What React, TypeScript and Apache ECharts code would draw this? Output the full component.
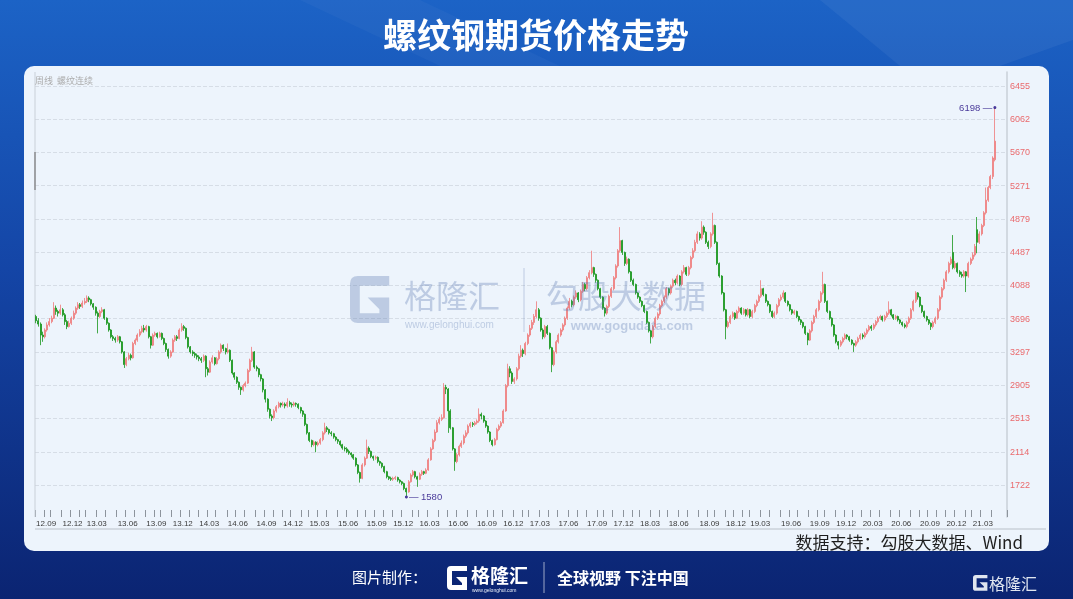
import React, { useEffect, useRef } from 'react';
import * as echarts from 'echarts';

const TITLE = '螺纹钢期货价格走势';
const SUBTITLE = '周线  螺纹连续';
const SOURCE = '数据支持：勾股大数据、Wind';
const yTickLabels = [1722, 2114, 2513, 2905, 3297, 3696, 4088, 4487, 4879, 5271, 5670, 6062, 6455];
const labelMonths = ['03', '06', '09', '12'];

// weekly candles per month: [open, close, low, high]
type Month = [string, number[][]];
const m2012: Month[] = [
  ['12.09', [[3720,3670,3640,3740],[3670,3630,3600,3700],[3630,3500,3380,3650],[3500,3480,3420,3540]]],
  ['12.10', [[3480,3560,3460,3580],[3560,3620,3540,3650],[3620,3660,3600,3700]]],
  ['12.11', [[3660,3700,3640,3730],[3700,3820,3690,3890],[3820,3780,3740,3850],[3780,3760,3720,3800],[3760,3800,3740,3860]]],
  ['12.12', [[3800,3740,3720,3820],[3740,3660,3620,3760],[3660,3600,3570,3680],[3600,3640,3590,3670]]],
];
const m2013: Month[] = [
  ['13.01', [[3640,3700,3620,3720],[3700,3760,3680,3790],[3760,3820,3740,3840],[3820,3860,3800,3890]]],
  ['13.02', [[3860,3840,3810,3880],[3840,3880,3820,3910],[3880,3900,3860,3940]]],
  ['13.03', [[3900,3940,3880,3970],[3940,3920,3890,3960],[3920,3870,3850,3930],[3870,3830,3800,3880],[3830,3760,3730,3840]]],
  ['13.04', [[3760,3720,3520,3780],[3720,3780,3700,3800],[3780,3800,3760,3830],[3800,3700,3680,3810]]],
  ['13.05', [[3700,3640,3620,3710],[3640,3560,3540,3650],[3560,3480,3460,3570],[3480,3460,3430,3500],[3460,3440,3410,3480]]],
  ['13.06', [[3440,3480,3420,3500],[3480,3420,3400,3490],[3420,3300,3280,3430],[3300,3150,3110,3310]]],
  ['13.07', [[3150,3220,3130,3240],[3220,3260,3200,3290],[3260,3230,3200,3280],[3230,3400,3220,3420]]],
  ['13.08', [[3400,3440,3380,3460],[3440,3500,3420,3520],[3500,3540,3480,3570],[3540,3580,3520,3610],[3580,3560,3530,3620]]],
  ['13.09', [[3560,3600,3540,3620],[3600,3480,3460,3610],[3480,3380,3340,3490],[3380,3500,3370,3520]]],
  ['13.10', [[3500,3520,3480,3540],[3520,3480,3460,3530],[3480,3520,3470,3540]]],
  ['13.11', [[3520,3460,3440,3530],[3460,3400,3380,3470],[3400,3330,3300,3410],[3330,3250,3220,3340],[3250,3300,3230,3320]]],
  ['13.12', [[3300,3440,3290,3460],[3440,3480,3420,3500],[3480,3460,3430,3500],[3460,3560,3450,3580]]],
];
const m2014: Month[] = [
  ['14.01', [[3560,3600,3540,3640],[3600,3580,3550,3620],[3580,3470,3450,3590],[3470,3360,3340,3480]]],
  ['14.02', [[3360,3300,3280,3370],[3300,3280,3250,3320],[3280,3260,3230,3300],[3260,3240,3210,3280]]],
  ['14.03', [[3240,3220,3190,3260],[3220,3200,3170,3240],[3200,3250,3180,3270],[3250,3100,3000,3260]]],
  ['14.04', [[3100,3060,3020,3120],[3060,3180,3050,3200],[3180,3230,3160,3260],[3230,3160,3140,3240]]],
  ['14.05', [[3160,3220,3150,3240],[3220,3300,3200,3320],[3300,3380,3280,3400],[3380,3340,3310,3390],[3340,3300,3270,3350]]],
  ['14.06', [[3300,3320,3280,3400],[3320,3200,3180,3330],[3200,3050,3030,3210],[3050,3000,2970,3060]]],
  ['14.07', [[3000,2940,2920,3010],[2940,2880,2850,2950],[2880,2850,2790,2890],[2850,2900,2830,2920]]],
  ['14.08', [[2900,2930,2880,2950],[2930,3080,2920,3100],[3080,3200,3060,3220],[3200,3300,3180,3360],[3300,3120,3100,3310]]],
  ['14.09', [[3120,3100,3070,3140],[3100,3030,3000,3110],[3030,2980,2950,3040],[2980,2850,2820,2990]]],
  ['14.10', [[2850,2740,2700,2860],[2740,2620,2590,2750],[2620,2540,2510,2630],[2540,2520,2480,2560]]],
  ['14.11', [[2520,2600,2500,2620],[2600,2650,2580,2670],[2650,2690,2630,2710],[2690,2670,2640,2700]]],
  ['14.12', [[2670,2680,2650,2710],[2680,2660,2630,2700],[2660,2700,2640,2750],[2700,2680,2650,2720]]],
];
const m2015: Month[] = [
  ['15.01', [[2680,2670,2640,2700],[2670,2690,2650,2710],[2690,2680,2650,2700],[2680,2640,2620,2690],[2640,2600,2570,2650]]],
  ['15.02', [[2600,2560,2530,2610],[2560,2440,2420,2570],[2440,2340,2320,2450]]],
  ['15.03', [[2340,2250,2230,2350],[2250,2200,2170,2260],[2200,2230,2180,2250],[2230,2200,2110,2240]]],
  ['15.04', [[2200,2220,2180,2240],[2220,2260,2200,2280],[2260,2340,2240,2360],[2340,2400,2320,2460]]],
  ['15.05', [[2400,2380,2350,2420],[2380,2340,2320,2390],[2340,2330,2300,2360],[2330,2290,2270,2340],[2290,2260,2240,2300]]],
  ['15.06', [[2260,2240,2210,2270],[2240,2200,2180,2250],[2200,2160,2140,2210],[2160,2150,2120,2180]]],
  ['15.07', [[2150,2120,2100,2170],[2120,2100,2080,2140],[2100,2080,2050,2110],[2080,2040,2020,2090],[2040,1960,1940,2050]]],
  ['15.08', [[1960,1870,1850,1970],[1870,1800,1750,1880],[1800,1960,1790,1980],[1960,2040,1940,2060]]],
  ['15.09', [[2040,2160,2030,2260],[2160,2120,2090,2180],[2120,2060,2040,2130],[2060,2040,2010,2070]]],
  ['15.10', [[2040,2050,2020,2070],[2050,2000,1980,2060],[2000,1980,1950,2010],[1980,1940,1920,1990]]],
  ['15.11', [[1940,1880,1860,1950],[1880,1820,1800,1890],[1820,1800,1780,1830],[1800,1790,1770,1820]]],
  ['15.12', [[1790,1800,1770,1820],[1800,1810,1780,1830],[1810,1780,1760,1820],[1780,1760,1740,1790]]],
];
const m2016: Month[] = [
  ['16.01', [[1760,1740,1720,1770],[1740,1680,1660,1750],[1680,1640,1580,1690],[1640,1760,1630,1780],[1760,1840,1750,1860]]],
  ['16.02', [[1840,1880,1820,1900],[1880,1820,1800,1890],[1820,1790,1700,1830]]],
  ['16.03', [[1790,1850,1780,1870],[1850,1880,1830,1900],[1880,1860,1840,1890],[1860,1900,1850,1920]]],
  ['16.04', [[1900,2020,1890,2040],[2020,2150,2010,2170],[2150,2250,2140,2270],[2250,2350,2230,2380],[2350,2460,2340,2490]]],
  ['16.05', [[2460,2500,2440,2530],[2500,2520,2480,2560],[2520,2880,2510,2930],[2880,2860,2800,2910]]],
  ['16.06', [[2860,2600,2340,2870],[2600,2400,2380,2620],[2400,2150,2130,2410],[2150,2000,1890,2160]]],
  ['16.07', [[2000,2080,1980,2100],[2080,2180,2060,2200],[2180,2220,2160,2250],[2220,2300,2200,2320],[2300,2340,2280,2370]]],
  ['16.08', [[2340,2420,2320,2440],[2420,2450,2400,2470],[2450,2440,2410,2470],[2440,2460,2420,2480]]],
  ['16.09', [[2460,2480,2440,2500],[2480,2560,2460,2630],[2560,2540,2500,2580],[2540,2480,2460,2550],[2480,2420,2400,2490]]],
  ['16.10', [[2420,2350,2330,2430],[2350,2250,2230,2360],[2250,2200,2180,2260]]],
  ['16.11', [[2200,2260,2190,2280],[2260,2380,2250,2400],[2380,2420,2360,2440],[2420,2460,2400,2480]]],
  ['16.12', [[2460,2600,2450,2620],[2600,2900,2590,2920],[2900,3100,2880,3160],[3100,3050,3000,3130],[3050,2950,2920,3070]]],
];
const m2017: Month[] = [
  ['17.01', [[2950,2980,2920,3000],[2980,3100,2960,3120],[3100,3250,3080,3280],[3250,3320,3230,3380]]],
  ['17.02', [[3320,3280,3240,3340],[3280,3400,3260,3420],[3400,3500,3380,3520]]],
  ['17.03', [[3500,3580,3480,3620],[3580,3650,3560,3680],[3650,3720,3620,3750],[3720,3800,3700,3900],[3800,3700,3670,3820]]],
  ['17.04', [[3700,3560,3540,3710],[3560,3480,3450,3580],[3480,3600,3460,3620],[3600,3520,3500,3620]]],
  ['17.05', [[3520,3350,3330,3530],[3350,3150,3060,3360],[3150,3300,3130,3320],[3300,3420,3280,3440]]],
  ['17.06', [[3420,3500,3400,3520],[3500,3560,3480,3580],[3560,3620,3540,3640],[3620,3700,3600,3720],[3700,3820,3680,3840]]],
  ['17.07', [[3820,3900,3800,3940],[3900,3860,3830,3920],[3860,3950,3840,3970],[3950,4000,3930,4030]]],
  ['17.08', [[4000,3920,3890,4010],[3920,4020,3900,4040],[4020,4100,4000,4130],[4100,4050,4020,4120]]],
  ['17.09', [[4050,4180,4030,4200],[4180,4240,4160,4270],[4240,4300,4220,4500],[4300,4220,4190,4310],[4220,4150,4120,4230]]],
  ['17.10', [[4150,4050,4030,4160],[4050,3950,3930,4060],[3950,3820,3800,3960]]],
  ['17.11', [[3820,3760,3720,3830],[3760,3840,3740,3860],[3840,3960,3820,3980],[3960,4050,3940,4070]]],
  ['17.12', [[4050,4180,4030,4200],[4180,4320,4160,4340],[4320,4500,4300,4520],[4500,4620,4480,4780],[4620,4480,4450,4630]]],
];
const m2018: Month[] = [
  ['18.01', [[4480,4350,4320,4490],[4350,4400,4330,4430],[4400,4250,4230,4410],[4250,4150,4130,4260]]],
  ['18.02', [[4150,4100,4080,4170],[4100,4000,3980,4110],[4000,3950,3930,4010]]],
  ['18.03', [[3950,3900,3880,3960],[3900,3850,3830,3910],[3850,3780,3760,3860],[3780,3650,3630,3790],[3650,3550,3530,3660]]],
  ['18.04', [[3550,3480,3400,3560],[3480,3600,3460,3620],[3600,3700,3580,3720],[3700,3750,3680,3770]]],
  ['18.05', [[3750,3850,3730,3870],[3850,3900,3830,3920],[3900,3950,3880,3970],[3950,4050,3930,4070]]],
  ['18.06', [[4050,4000,3970,4060],[4000,4080,3980,4100],[4080,4150,4060,4170],[4150,4120,4090,4170],[4120,4200,4100,4220]]],
  ['18.07', [[4200,4100,4080,4210],[4100,4250,4080,4270],[4250,4300,4230,4330],[4300,4220,4200,4310]]],
  ['18.08', [[4220,4300,4200,4320],[4300,4420,4280,4440],[4420,4500,4400,4530],[4500,4600,4480,4630],[4600,4700,4580,4730]]],
  ['18.09', [[4700,4650,4620,4720],[4650,4780,4630,4850],[4780,4720,4690,4800],[4720,4600,4580,4730]]],
  ['18.10', [[4600,4550,4520,4620],[4550,4700,4530,4720],[4700,4800,4680,4950]]],
  ['18.11', [[4800,4600,4580,4810],[4600,4350,4330,4610],[4350,4200,4180,4360],[4200,4000,3980,4210],[4000,3800,3780,4010]]],
  ['18.12', [[3800,3600,3450,3810],[3600,3650,3580,3670],[3650,3720,3630,3740],[3720,3760,3700,3780]]],
];
const m2019: Month[] = [
  ['19.01', [[3760,3700,3680,3770],[3700,3780,3690,3800],[3780,3820,3760,3840],[3820,3760,3740,3830]]],
  ['19.02', [[3760,3800,3740,3820],[3800,3740,3720,3810],[3740,3800,3720,3820]]],
  ['19.03', [[3800,3720,3700,3810],[3720,3780,3700,3800],[3780,3850,3760,3870],[3850,3900,3830,3920],[3900,3960,3880,3980]]],
  ['19.04', [[3960,4050,3940,4150],[4050,3980,3960,4060],[3980,3900,3880,3990],[3900,3860,3840,3910]]],
  ['19.05', [[3860,3780,3760,3870],[3780,3720,3700,3790],[3720,3760,3700,3780],[3760,3850,3740,3870],[3850,3920,3830,3940]]],
  ['19.06', [[3920,3950,3900,3980],[3950,4000,3930,4030],[4000,3900,3880,4010],[3900,3860,3840,3910]]],
  ['19.07', [[3860,3800,3780,3870],[3800,3760,3740,3810],[3760,3780,3740,3800],[3780,3720,3700,3790]]],
  ['19.08', [[3720,3680,3660,3730],[3680,3650,3620,3690],[3650,3600,3580,3660],[3600,3520,3500,3610],[3520,3440,3380,3530]]],
  ['19.09', [[3440,3550,3430,3570],[3550,3650,3530,3670],[3650,3720,3630,3740],[3720,3800,3700,3820]]],
  ['19.10', [[3800,3900,3780,3920],[3900,4000,3880,4020],[4000,4100,3980,4250]]],
  ['19.11', [[4100,3900,3880,4110],[3900,3780,3760,3910],[3780,3700,3680,3790],[3700,3620,3600,3710],[3620,3500,3480,3630]]],
  ['19.12', [[3500,3420,3400,3510],[3420,3380,3330,3430],[3380,3420,3360,3440],[3420,3460,3400,3480]]],
];
const m2020: Month[] = [
  ['20.01', [[3460,3500,3440,3520],[3500,3480,3450,3510],[3480,3440,3420,3490],[3440,3400,3380,3450]]],
  ['20.02', [[3400,3380,3300,3410],[3380,3420,3360,3440],[3420,3460,3400,3480],[3460,3500,3440,3520]]],
  ['20.03', [[3500,3480,3450,3520],[3480,3520,3460,3540],[3520,3560,3500,3580],[3560,3600,3540,3620]]],
  ['20.04', [[3600,3580,3550,3620],[3580,3620,3560,3640],[3620,3660,3600,3680],[3660,3700,3640,3720]]],
  ['20.05', [[3700,3720,3680,3740],[3720,3680,3660,3730],[3680,3720,3660,3740],[3720,3760,3700,3780],[3760,3800,3740,3900]]],
  ['20.06', [[3800,3740,3720,3810],[3740,3700,3680,3750],[3700,3720,3680,3740],[3720,3680,3660,3730]]],
  ['20.07', [[3680,3650,3630,3690],[3650,3620,3600,3660],[3620,3600,3580,3640],[3600,3650,3580,3670],[3650,3700,3630,3720]]],
  ['20.08', [[3700,3800,3680,3820],[3800,3900,3780,3920],[3900,4000,3880,4020],[4000,3950,3920,4010]]],
  ['20.09', [[3950,3850,3830,3960],[3850,3780,3760,3860],[3780,3720,3700,3790],[3720,3680,3660,3730]]],
  ['20.10', [[3680,3640,3620,3690],[3640,3600,3560,3650],[3600,3650,3580,3670],[3650,3700,3630,3720]]],
  ['20.11', [[3700,3800,3680,3820],[3800,3950,3780,3970],[3950,4050,3930,4070],[4050,4150,4030,4170]]],
  ['20.12', [[4150,4250,4130,4270],[4250,4350,4230,4370],[4350,4400,4330,4430],[4480,4300,4280,4686]]],
];
const m2021: Month[] = [
  ['21.01', [[4300,4350,4280,4380],[4350,4250,4230,4360],[4250,4220,4190,4270],[4220,4200,4180,4250],[4200,4250,4180,4270]]],
  ['21.02', [[4250,4200,4010,4260],[4200,4350,4180,4370],[4350,4400,4330,4420]]],
  ['21.03', [[4400,4450,4380,4480],[4450,4550,4430,4580],[4750,4600,4470,4900],[4600,4700,4580,4730]]],
  ['21.04', [[4700,4800,4680,4820],[4800,4950,4780,4970],[4950,5100,4930,5250],[5100,5250,5080,5270],[5250,5380,5230,5400]]],
  ['21.05', [[5380,5600,5350,5620],[5580,5800,5560,6198]]],
];
const PAD_WEEKS = 5;

const allMonths: Month[] = [...m2012, ...m2013, ...m2014, ...m2015, ...m2016, ...m2017, ...m2018, ...m2019, ...m2020, ...m2021];
const categories: string[] = [];
const candles: number[][] = [];
allMonths.forEach(([m, weeks]) => {
  weeks.forEach((w, k) => {
    categories.push(m + '#' + k);
    candles.push([w[0], w[1], w[2], w[3]]);
  });
});
for (let i = 0; i < PAD_WEEKS; i++) categories.push('pad#' + (i + 1));

const G_PATH = 'M40 0 L8 0 Q0 0 0 8 L0 40 Q0 48 8 48 L40 48 L40 22 L18 22 L30 34 L30 38 L10 38 L10 10 L40 10 Z';
echarts.graphic.registerShape('glogo', echarts.graphic.extendPath(G_PATH, {}));

const CJK = '"Noto Sans CJK SC", "Noto Sans", sans-serif';
const LAT = 'Arial, "Liberation Sans", sans-serif';

export default function App() {
  const ref = useRef<HTMLDivElement>(null);
  useEffect(() => {
    if (!ref.current) return;
    const chart = echarts.init(ref.current, undefined, { renderer: 'svg' });
    const wm = 'rgba(90,120,176,0.33)';
    const option: any = {
      animation: false,
      graphic: [
        {
          type: 'rect', z: -20, shape: { x: 0, y: 0, width: 1073, height: 599 },
          style: { fill: new echarts.graphic.LinearGradient(0, 0, 0, 1, [
            { offset: 0, color: '#1c63c6' }, { offset: 0.45, color: '#1445a6' }, { offset: 1, color: '#0b2472' }]) },
        },
        { type: 'polygon', z: -19, shape: { points: [[820, 0], [1073, 0], [1073, 40], [1000, 66], [900, 66]] }, style: { fill: 'rgba(255,255,255,0.05)' } },
        { type: 'polygon', z: -19, shape: { points: [[300, 0], [420, 0], [560, 66], [440, 66]] }, style: { fill: 'rgba(255,255,255,0.03)' } },
        { type: 'rect', z: -18, shape: { x: 24, y: 66, width: 1025, height: 485, r: 10 }, style: { fill: '#edf4fc' } },
        { type: 'text', z: 10, x: 536, y: 33, style: { text: TITLE, fill: '#ffffff', font: 'bold 34px ' + CJK, textAlign: 'center', textVerticalAlign: 'middle' } },
        { type: 'text', z: 10, x: 35, y: 80, style: { text: SUBTITLE, fill: '#acacac', font: '9px ' + CJK, textAlign: 'left', textVerticalAlign: 'middle' } },
        { type: 'line', z: 1, shape: { x1: 35, y1: 72, x2: 35, y2: 517 }, style: { stroke: '#c9d0d8', lineWidth: 1 } },
        { type: 'line', z: 1, shape: { x1: 35, y1: 152, x2: 35, y2: 190 }, style: { stroke: '#777', lineWidth: 1.2 } },
        { type: 'line', z: 1, shape: { x1: 35, y1: 529, x2: 1046, y2: 529 }, style: { stroke: '#b9c0c8', lineWidth: 1 } },
        { type: 'text', z: 10, x: 1023, y: 541, style: { text: SOURCE, fill: '#1e1e1e', font: '17px ' + CJK, textAlign: 'right', textVerticalAlign: 'middle' } },
        // watermark
        { type: 'glogo', z: 50, x: 350, y: 276, scaleX: 0.98, scaleY: 0.98, style: { fill: wm } },
        { type: 'text', z: 50, x: 404, y: 294, style: { text: '格隆汇', fill: wm, font: '32px ' + CJK, textAlign: 'left', textVerticalAlign: 'middle' } },
        { type: 'text', z: 50, x: 405, y: 324, style: { text: 'www.gelonghui.com', fill: wm, font: '10px ' + LAT, textAlign: 'left', textVerticalAlign: 'middle' } },
        { type: 'line', z: 50, shape: { x1: 524, y1: 268, x2: 524, y2: 332 }, style: { stroke: wm, lineWidth: 1 } },
        { type: 'text', z: 50, x: 546, y: 294, style: { text: '勾股大数据', fill: wm, font: '32px ' + CJK, textAlign: 'left', textVerticalAlign: 'middle' } },
        { type: 'text', z: 50, x: 632, y: 325, style: { text: 'www.gogudata.com', fill: wm, font: 'bold 13px ' + LAT, textAlign: 'center', textVerticalAlign: 'middle' } },
        // footer
        { type: 'text', z: 10, x: 352, y: 576, style: { text: '图片制作：', fill: '#ffffff', font: '15px ' + CJK, textAlign: 'left', textVerticalAlign: 'middle' } },
        { type: 'glogo', z: 10, x: 447, y: 566, scaleX: 0.5, scaleY: 0.5, style: { fill: '#ffffff' } },
        { type: 'text', z: 10, x: 471, y: 574, style: { text: '格隆汇', fill: '#ffffff', font: 'bold 19px ' + CJK, textAlign: 'left', textVerticalAlign: 'middle' } },
        { type: 'text', z: 10, x: 472, y: 590, style: { text: 'www.gelonghui.com', fill: '#e8eef8', font: '5px ' + LAT, textAlign: 'left', textVerticalAlign: 'middle' } },
        { type: 'line', z: 10, shape: { x1: 544, y1: 562, x2: 544, y2: 593 }, style: { stroke: 'rgba(255,255,255,0.6)', lineWidth: 1 } },
        { type: 'text', z: 10, x: 557, y: 577, style: { text: '全球视野 下注中国', fill: '#ffffff', font: 'bold 16px ' + CJK, textAlign: 'left', textVerticalAlign: 'middle' } },
        { type: 'glogo', z: 10, x: 973, y: 575, scaleX: 0.36, scaleY: 0.33, style: { fill: '#dfe5ef' } },
        { type: 'text', z: 10, x: 989, y: 583, style: { text: '格隆汇', fill: '#dfe5ef', font: '16px ' + CJK, textAlign: 'left', textVerticalAlign: 'middle' } },
      ],
      grid: { left: 35, right: 66, top: 72, bottom: 82 },
      xAxis: {
        type: 'category',
        data: categories,
        boundaryGap: true,
        axisLine: { show: false },
        axisTick: {
          show: true, inside: true, length: 7,
          interval: (_i: number, v: string) => v.endsWith('#0') && !v.startsWith('pad'),
          lineStyle: { color: '#8d949c', width: 1 },
        },
        axisLabel: {
          show: true,
          interval: (_i: number, v: string) => v.endsWith('#0') && labelMonths.includes(v.slice(3, 5)),
          formatter: (v: string) => v.split('#')[0],
          color: '#3a3a3a', fontSize: 8, lineHeight: 9, fontFamily: LAT, align: 'left', margin: 2,
        },
        splitLine: { show: false },
      },
      yAxis: {
        type: 'value',
        position: 'right',
        min: 1342,
        max: 6620,
        scale: true,
        axisLine: { show: true, lineStyle: { color: '#c9d0d8', width: 1.5 } },
        axisTick: { show: false, customValues: yTickLabels },
        axisLabel: { customValues: yTickLabels, formatter: (v: number) => String(Math.round(v)), color: '#ea6a6d', fontSize: 9, fontFamily: LAT, margin: 3 },
        splitLine: { show: true, lineStyle: { color: '#d6dde6', type: 'dashed', width: 1 } },
      },
      series: [
        {
          type: 'candlestick',
          data: candles,
          barWidth: 1.5,
          itemStyle: {
            color: '#f3a0a0', color0: '#17951b', borderColor: '#ef7a7a', borderColor0: '#17951b', borderWidth: 0.8,
          },
          markPoint: {
            symbol: 'circle',
            symbolSize: 3,
            itemStyle: { color: '#4a3a9a' },
            label: { color: '#4a3a9a', fontSize: 9.5, fontFamily: LAT },
            data: [
              { type: 'max', valueDim: 'highest', label: { position: 'left', distance: 1, formatter: '{c} —' } },
              { type: 'min', valueDim: 'lowest', label: { position: 'right', distance: 1, formatter: '— {c}' } },
            ],
          },
        },
      ],
    };
    chart.setOption(option);
    return () => chart.dispose();
  }, []);
  return <div ref={ref} style={{ position: 'fixed', left: 0, top: 0, width: 1073, height: 599 }} />;
}
